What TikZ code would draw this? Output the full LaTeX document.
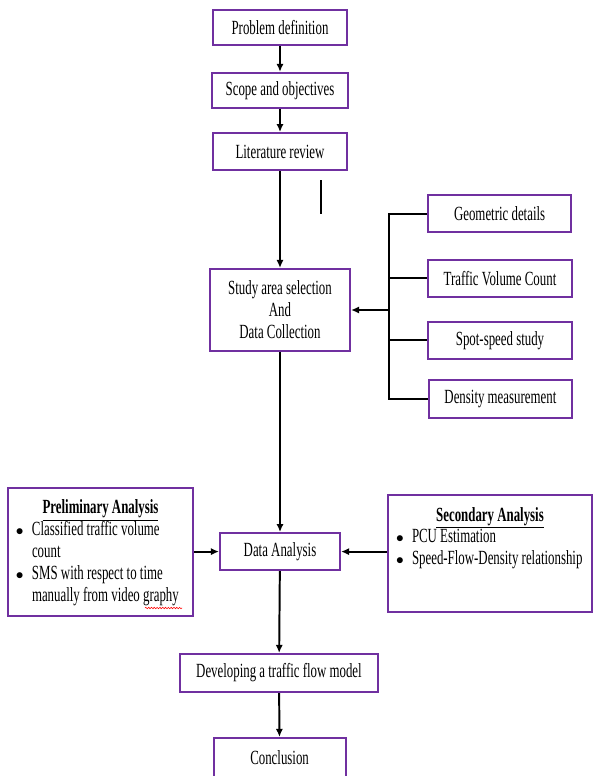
\documentclass[tikz,border=0pt]{standalone}
\usepackage{fontspec}
\setmainfont{Liberation Serif}[FakeStretch=0.64]
\usetikzlibrary{arrows.meta,decorations.pathmorphing}
\definecolor{boxpurple}{HTML}{7030A0}
\newcommand{\bulletitem}[1]{\par\noindent\hangindent=0.6cm\hangafter=1\hspace*{0.2cm}\makebox[0.4cm][l]{\fontsize{10.5}{10.5}\selectfont$\bullet$}#1}

\begin{document}
\begin{tikzpicture}[
    font=\fontsize{14.3}{15.6}\selectfont,
    stage/.style={rectangle, draw=boxpurple, line width=1.5pt, fill=white, inner sep=0pt, align=center},
    flow/.style={-{Latex[length=2mm, width=1.8mm]}, line width=1.4pt},
    link/.style={line width=1.4pt}
]
    \useasboundingbox (0,0) rectangle (14.825,-19.4);

    % Main stages
    \node[stage, minimum width=3.35cm, minimum height=0.875cm] (problem) at (7.0,-0.69) {Problem definition};
    \node[stage, minimum width=3.4cm, minimum height=0.875cm] (scope) at (7.0,-2.26) {Scope and objectives};
    \node[stage, minimum width=3.35cm, minimum height=0.925cm] (review) at (7.0,-3.79) {Literature review};
    \node[stage, minimum width=3.5cm, minimum height=2.05cm] (study) at (7.0,-7.75) {Study area selection\\And\\Data Collection};
    \node[stage, minimum width=3.0cm, minimum height=0.925cm] (analysis) at (7.0,-13.79) {Data Analysis};
    \node[stage, minimum width=4.95cm, minimum height=0.95cm] (model) at (6.975,-16.825) {Developing a traffic flow model};
    \node[stage, minimum width=3.3cm, minimum height=1.0cm] (conclusion) at (6.99,-18.95) {Conclusion};

    % Data collection items
    \node[stage, minimum width=3.575cm, minimum height=0.925cm] (geometric) at (12.49,-5.34) {Geometric details};
    \node[stage, minimum width=3.6cm, minimum height=0.925cm] (volume) at (12.5,-6.96) {Traffic Volume Count};
    \node[stage, minimum width=3.6cm, minimum height=0.925cm] (spot) at (12.5,-8.51) {Spot-speed study};
    \node[stage, minimum width=3.575cm, minimum height=0.95cm] (density) at (12.51,-9.975) {Density measurement};
    \coordinate (bus) at (9.725,-7.75);

    % Analysis boxes
    \node[stage, align=left] (prelim) at (2.5125,-13.8) {\parbox[c][3.2cm][t]{4.625cm}{\raggedright\vspace{0.3cm}%
        {\centering\underline{\textbf{Preliminary Analysis}}\par}
        \bulletitem{Classified traffic volume\newline count}
        \bulletitem{SMS with respect to time\newline manually from video graphy}}};
    \node[stage, align=left] (secondary) at (12.25,-13.84) {\parbox[c][2.925cm][t]{5.1cm}{\raggedright\vspace{0.3cm}%
        {\centering\underline{\textbf{Secondary Analysis}}\par}
        \bulletitem{PCU Estimation}
        \bulletitem{Speed-Flow-Density relationship}}};
    \draw[red, line width=0.4pt, decorate, decoration={snake, amplitude=0.5pt, segment length=2pt}] (3.625,-15.2) -- (4.55,-15.2);

    % Connectors
    \draw[flow] (problem) -- (scope);
    \draw[flow] (scope) -- (review);
    \draw[flow] (review) -- (study);
    \draw[link] (8.025,-4.5) -- ++(0,-0.85);
    \draw[link] (geometric.west) -- (geometric.west -| bus) -- (density.west -| bus) -- (density.west);
    \draw[link] (volume.west) -- (volume.west -| bus);
    \draw[link] (spot.west) -- (spot.west -| bus);
    \draw[flow] (bus) -- (study.east);
    \draw[flow] (study) -- (analysis);
    \draw[flow] (prelim.east |- analysis.west) -- (analysis.west);
    \draw[flow] (secondary.west |- analysis.east) -- (analysis.east);
    \draw[flow] (analysis) -- (model);
    \draw[flow] (model) -- (conclusion);
\end{tikzpicture}
\end{document}
